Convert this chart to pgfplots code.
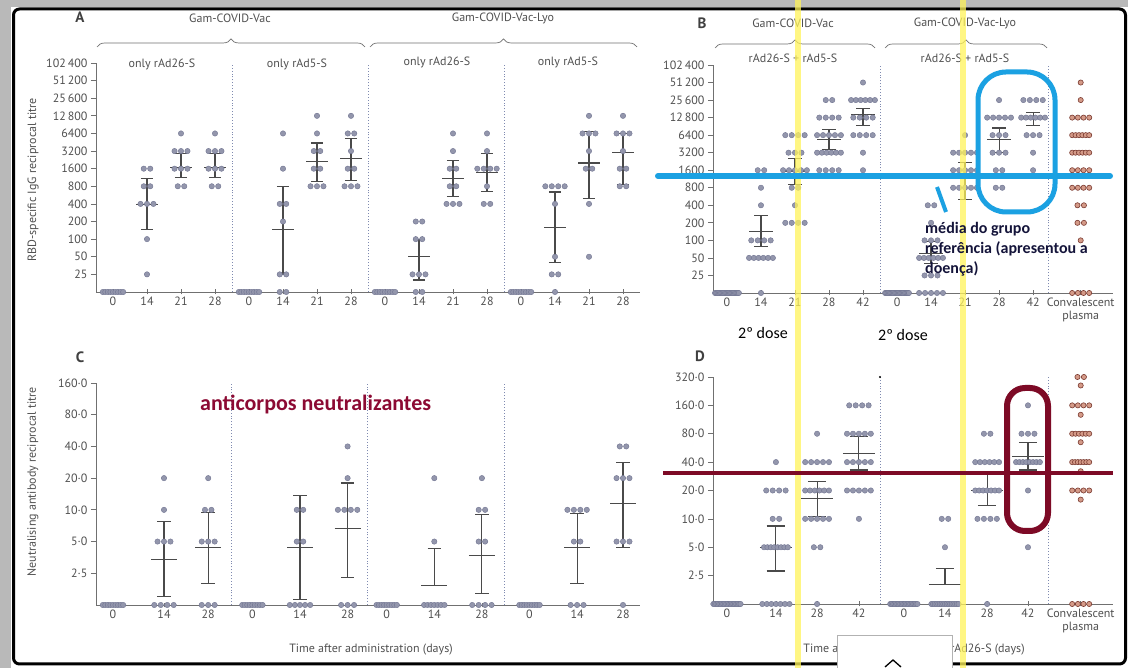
\documentclass[border=0pt]{standalone}
\usepackage{pgfplots}
\pgfplotsset{compat=1.18}
\usepackage{fontspec}
\setmainfont{PT Sans}
\newfontfamily\anno{Carlito}
\usetikzlibrary{decorations.pathreplacing}

\definecolor{dotf}{HTML}{9396AC}
\definecolor{dotd}{HTML}{6F7390}
\definecolor{plf}{HTML}{D49A88}
\definecolor{pld}{HTML}{7A3A30}
\definecolor{ebc}{HTML}{4A4A4A}
\definecolor{axc}{HTML}{707070}
\definecolor{tlc}{HTML}{505050}
\definecolor{divc}{HTML}{7F8AB0}
\definecolor{ylw}{HTML}{FFF35A}
\definecolor{blu}{HTML}{1BA1E2}
\definecolor{mar}{HTML}{7D0A26}
\definecolor{antc}{HTML}{8C0A33}
\definecolor{annb}{HTML}{14143A}

\newcommand\lbl{\fontsize{12}{13.5}\selectfont\color{tlc}}

% ---- dot-plot helpers: each category is given as value/count pairs ----
\def\pts{}
\def\dotsp{0.19}
\def\dotcap{0.6}
\def\zerocap{0.6}
\def\zeroval{12.5}
\def\mw{0.32}
\def\cw{0.18}
\makeatletter
\def\@zero{0}
\newcommand\addrow[3]{%
  \edef\@val{#2}%
  \ifx\@val\@zero \let\@yy\zeroval \let\@cap\zerocap \else \let\@yy\@val \let\@cap\dotcap \fi
  \pgfmathsetmacro\@sp{min(\dotsp,\@cap/max(#3-1,1))}%
  \pgfmathtruncatemacro\@n{#3}%
  \foreach \kk in {1,...,\@n}{%
    \pgfmathsetmacro\@xx{#1+(\kk-1-(#3-1)/2)*\@sp}%
    \xdef\pts{\pts (\@xx,\@yy)}%
  }%
}
\makeatother
\newcommand\addcat[2]{\foreach \vv/\nn in {#2}{\addrow{#1}{\vv}{\nn}}}
\newcommand\plotdots[1]{\edef\tmp{\noexpand\addplot[#1] coordinates {\pts};}\tmp\gdef\pts{}}
% mean with 95% CI: pos, mean, low, high
\newcommand\ebar[4]{%
  \pgfmathsetmacro\xa{#1-\mw}\pgfmathsetmacro\xb{#1+\mw}%
  \pgfmathsetmacro\xc{#1-\cw}\pgfmathsetmacro\xd{#1+\cw}%
  \edef\tmp{\noexpand\addplot[ebc, line width=1.1pt, mark=none] coordinates {(\xa,#2) (\xb,#2)};%
    \noexpand\addplot[ebc, line width=1.1pt, mark=none] coordinates {(\xc,#3) (\xd,#3)};%
    \noexpand\addplot[ebc, line width=1.1pt, mark=none] coordinates {(\xc,#4) (\xd,#4)};%
    \noexpand\addplot[ebc, line width=1.1pt, mark=none] coordinates {(#1,#3) (#1,#4)};}\tmp}

\tikzset{divl/.style={divc, dotted, line width=0.9pt}}
\pgfplotsset{
  panel/.style={scale only axis, axis lines*=left, clip=false,
    axis line style={axc, line width=0.8pt},
    tick style={axc, line width=0.7pt},
    ytick align=outside, xtick align=center, major tick length=5pt,
    tick label style={font=\lbl},
    xticklabel style={align=center, inner sep=2pt}},
  dp/.style={only marks, mark=*, mark size=2.7pt, mark options={fill=dotf, draw=dotd, line width=0.4pt}},
  pp/.style={only marks, mark=*, mark size=2.6pt, mark options={fill=plf, draw=pld, line width=0.6pt}},
}

\begin{document}
\begin{tikzpicture}[x=1pt,y=1pt]
\path[use as bounding box] (0,0) rectangle (1128,668);
\fill[white] (0,0) rectangle (1128,668);
\fill[gray!55] (0,0) rectangle (11,668);
\fill[gray!55] (0,661) rectangle (1128,668);
\draw[black, line width=3pt, rounded corners=6pt] (13.5,4) rectangle (1125.5,659);

% ================= A =================
\begin{axis}[panel, ymode=log, anchor=south west, at={(96pt,376pt)}, width=544pt, height=229pt,
  ymin=12.5, ymax=102400,
  ytick={25,50,100,200,400,800,1600,3200,6400,12800,25600,51200,102400},
  yticklabels={25,50,100,200,400,800,1600,3200,6400,12\,800,25\,600,51\,200,102\,400},
  xmin=-0.5, xmax=15.5, xtick={0,...,15},
  xticklabels={0,14,21,28,0,14,21,28,0,14,21,28,0,14,21,28}]
\def\zeroval{12.5}\def\dotcap{0.6}\def\zerocap{0.6}\def\mw{0.32}\def\cw{0.18}
\draw[divl] (axis cs:3.5,12.5) -- (axis cs:3.5,102400);
\draw[divl] (axis cs:7.5,12.5) -- (axis cs:7.5,102400);
\draw[divl] (axis cs:11.5,12.5) -- (axis cs:11.5,102400);
\addcat{0}{0/9}
\addcat{1}{1600/2,800/2,400/3,100/1,25/1}
\addcat{2}{6400/1,3200/3,1600/3,800/2}
\addcat{3}{6400/1,3200/3,1600/3,800/2}
\addcat{4}{0/9}
\addcat{5}{6400/1,1600/1,400/2,200/1,25/2,0/2}
\addcat{6}{12800/1,6400/1,3200/2,1600/2,800/3}
\addcat{7}{12800/1,6400/2,3200/1,1600/2,800/3}
\addcat{8}{0/9}
\addcat{9}{200/2,100/2,25/3,0/2}
\addcat{10}{6400/1,3200/1,1600/2,800/2,400/3}
\addcat{11}{6400/1,3200/1,1600/4,800/1,400/2}
\addcat{12}{0/9}
\addcat{13}{800/4,400/1,50/1,25/2,0/1}
\addcat{14}{12800/1,6400/3,3200/1,1600/2,400/1,50/1}
\addcat{15}{12800/1,6400/3,3200/1,1600/2,800/2}
\plotdots{dp}
\ebar{1}{390}{146}{1080}
\ebar{2}{1700}{1130}{2900}
\ebar{3}{1700}{1130}{2900}
\ebar{5}{146}{25}{800}
\ebar{6}{2100}{960}{4400}
\ebar{7}{2350}{1000}{5200}
\ebar{9}{50}{20}{100}
\ebar{10}{1100}{530}{2200}
\ebar{11}{1400}{650}{2900}
\ebar{13}{160}{40}{640}
\ebar{14}{2000}{500}{7000}
\ebar{15}{3000}{850}{6400}
\end{axis}

% ================= B =================
\begin{axis}[panel, ymode=log, anchor=south west, at={(713pt,375pt)}, width=400pt, height=228pt,
  ymin=12.5, ymax=102400,
  ytick={25,50,100,200,400,800,1600,3200,6400,12800,25600,51200,102400},
  yticklabels={25,50,100,200,400,800,1600,3200,6400,12\,800,25\,600,51\,200,102\,400},
  xmin=-0.41, xmax=11.35, xtick={0,1,2,3,4,5,6,7,8,9,10.4},
  xticklabels={0,14,21,28,42,0,14,21,28,42,{Convalescent\\plasma}}]
\def\zeroval{12.5}\def\dotcap{0.7}\def\zerocap{0.7}\def\mw{0.35}\def\cw{0.2}
\draw[divl] (axis cs:4.5,12.5) -- (axis cs:4.5,102400);
\draw[divl] (axis cs:9.45,12.5) -- (axis cs:9.45,102400);
\addcat{0}{0/20}
\addcat{1}{1600/2,800/1,400/1,100/4,50/6,0/1}
\addcat{2}{6400/4,3200/3,1600/5,800/2,400/1,200/4}
\addcat{3}{25600/2,12800/4,6400/5,3200/6,1600/4}
\addcat{4}{51200/1,25600/6,12800/4,6400/4,3200/1,1600/1}
\addcat{5}{0/20}
\addcat{6}{400/2,200/1,100/3,50/6,25/3,0/5}
\addcat{7}{6400/1,3200/5,1600/5,800/5}
\addcat{8}{25600/1,12800/5,6400/3,3200/3,1600/2,800/2}
\addcat{9}{25600/4,12800/6,6400/3,3200/1,1600/1}
\plotdots{dp}
\def\dotcap{0.5}\def\zerocap{0.5}
\addcat{10.4}{51200/1,25600/1,12800/4,6400/6,3200/6,1600/4,800/4,400/2,200/2,100/1,0/4}
\plotdots{pp}
\ebar{1}{140}{78}{264}
\ebar{2}{1550}{900}{2500}
\ebar{3}{5400}{3600}{8000}
\ebar{4}{14700}{9400}{18500}
\ebar{6}{60}{40}{95}
\ebar{7}{1200}{500}{2200}
\ebar{8}{5300}{3200}{8500}
\ebar{9}{12500}{9500}{15500}
\end{axis}

% ================= C =================
\begin{axis}[panel, ymode=log, anchor=south west, at={(96pt,63pt)}, width=544pt, height=222pt,
  xmin=-0.5, xmax=15.5, ymin=1.25, ymax=160,
  ytick={2.5,5,10,20,40,80,160}, yticklabels={2·5,5·0,10·0,20·0,40·0,80·0,160·0},
  xtick={0,1.5,2.8,4.1,5.5,6.9,8.05,9.45,10.85,12.25,13.65,15},
  xticklabels={0,14,28,0,14,28,0,14,28,0,14,28}]
\def\zeroval{1.25}\def\dotcap{0.6}\def\zerocap{0.6}\def\mw{0.38}\def\cw{0.2}
\draw[divl] (axis cs:3.47,1.25) -- (axis cs:3.47,160);
\draw[divl] (axis cs:7.47,1.25) -- (axis cs:7.47,160);
\draw[divl] (axis cs:11.5,1.25) -- (axis cs:11.5,160);
\addcat{0}{0/9}
\addcat{1.5}{20/1,10/1,5/3,0/4}
\addcat{2.8}{20/1,10/2,5/3,0/3}
\addcat{4.1}{0/9}
\addcat{5.5}{10/2,5/2,0/5}
\addcat{6.9}{40/1,20/1,10/4,0/3}
\addcat{8.05}{0/9}
\addcat{9.45}{20/1,5/1,0/7}
\addcat{10.85}{20/1,10/2,5/2,0/4}
\addcat{12.25}{0/9}
\addcat{13.65}{10/4,5/2,0/3}
\addcat{15}{40/2,20/3,5/3,0/1}
\plotdots{dp}
\ebar{1.5}{3.4}{1.5}{7.8}
\ebar{2.8}{4.35}{2.0}{9.5}
\ebar{5.5}{4.35}{1.4}{13.6}
\ebar{6.9}{6.6}{2.3}{18}
\ebar{9.45}{1.9}{1.9}{4.3}
\ebar{10.85}{3.7}{1.6}{9}
\ebar{13.65}{4.35}{2.0}{9.3}
\ebar{15}{11.4}{4.4}{28}
\end{axis}

% ================= D =================
\begin{axis}[panel, ymode=log, anchor=south west, at={(713pt,64pt)}, width=400pt, height=227pt,
  xmin=-0.41, xmax=11.35, ymin=1.25, ymax=320,
  ytick={2.5,5,10,20,40,80,160,320}, yticklabels={2·5,5·0,10·0,20·0,40·0,80·0,160·0,320·0},
  xtick={0,1.44,2.65,3.88,5.2,6.41,7.65,8.85,10.4},
  xticklabels={0,14,28,42,0,14,28,42,{Convalescent\\plasma}}]
\def\zeroval{1.25}\def\dotcap{0.7}\def\zerocap{0.8}\def\mw{0.47}\def\cw{0.27}
\draw[divl] (axis cs:4.5,1.25) -- (axis cs:4.5,320);
\fill[black] (axis cs:4.5,320) circle (1.2pt);
\draw[divl] (axis cs:9.45,1.25) -- (axis cs:9.45,320);
\addcat{0}{0/20}
\addcat{1.44}{40/1,20/4,10/2,5/8,0/7}
\addcat{2.65}{80/1,40/5,20/6,10/5,5/2,0/1}
\addcat{3.88}{160/4,80/5,40/5,20/5,10/1}
\addcat{5.2}{0/20}
\addcat{6.41}{10/2,5/1,0/17}
\addcat{7.65}{80/2,40/6,20/7,10/4,0/1}
\addcat{8.85}{160/1,80/3,40/8,20/1,5/1}
\plotdots{dp}
\def\dotcap{0.5}\def\zerocap{0.5}
\addcat{10.4}{320/2,260/1,160/4,127/1,80/6,65/1,40/7,32/1,20/4,16/1,0/4}
\plotdots{pp}
\ebar{1.44}{5}{2.8}{8.4}
\ebar{2.65}{16.6}{10.5}{25}
\ebar{3.88}{49}{33}{74}
\ebar{6.41}{2.0}{2.0}{2.95}
\ebar{7.65}{20}{14}{32}
\ebar{8.85}{46}{33}{65}
\end{axis}

% ---- titles, braces, labels ----
\begin{scope}[every node/.style={font=\lbl}]
\node at (230,650) {Gam-COVID-Vac};
\node at (503,650) {Gam-COVID-Vac-Lyo};
\node at (793,645) {Gam-COVID-Vac};
\node at (965,645) {Gam-COVID-Vac-Lyo};
\node at (162,604) {only rAd26-S};
\node at (297,604) {only rAd5-S};
\node at (437,606) {only rAd26-S};
\node at (568,606) {only rAd5-S};
\node at (793,610) {rAd26-S + rAd5-S};
\node at (965,610) {rAd26-S + rAd5-S};
\node[rotate=90] at (33,488) {RBD-specific IgG reciprocal titre};
\node[rotate=90] at (33,186) {Neutralising antibody reciprocal titre};
\node at (371,18) {Time after administration (days)};
\node at (914,18) {Time after administration of rAd26-S (days)};
\end{scope}
\begin{scope}[axc, line width=0.7pt, decoration={brace, amplitude=8pt}]
\draw[decorate] (97,621) -- (365,621);
\draw[decorate] (370,621) -- (637,621);
\draw[decorate] (715,620) -- (875,620);
\draw[decorate] (885,620) -- (1047,620);
\end{scope}
\begin{scope}[every node/.style={font=\bfseries\fontsize{15}{15}\selectfont, text=black!75}]
\node at (80,651) {A};
\node at (702,645) {B};
\node at (80,311) {C};
\node at (700,312) {D};
\end{scope}

% ---- overlay annotations ----
\draw[ylw, opacity=0.75, line width=6pt] (798,0) -- (798,668);
\draw[ylw, opacity=0.75, line width=6pt] (963,0) -- (963,668);
\draw[blu, line width=6pt, line cap=round] (658,492) -- (1110,492);
\draw[blu, line width=4pt] (937,481) -- (946,456);
\draw[blu, line width=5pt, rounded corners=28pt] (978,456) rectangle (1055,596);
\begin{scope}[every node/.style={anchor=base west, inner sep=0pt, font=\anno\bfseries\fontsize{16}{20}\selectfont, text=annb}]
\node at (925,434) {média do grupo};
\node at (925,414) {referência (apresentou a};
\node at (925,394) {doença)};
\end{scope}
\begin{scope}[every node/.style={anchor=base, inner sep=0pt, font=\anno\fontsize{16}{16}\selectfont, text=black}]
\node at (763,329) {2º dose};
\node at (903,327) {2º dose};
\end{scope}
\draw[mar, line width=4pt] (663,195) -- (1113,195);
\draw[mar, line width=6pt, rounded corners=18pt] (1007,137) rectangle (1048,280);
\node[anchor=base west, inner sep=0pt, font=\anno\bfseries\fontsize{22}{22}\selectfont, text=antc] at (200,257) {anticorpos neutralizantes};

% ---- bottom overlay box ----
\draw[fill=white, draw=gray!60, line width=0.8pt] (837,-3) rectangle (952,33);
\draw[black, line width=1.3pt] (885,1) -- (893,8) -- (901,1);
\end{tikzpicture}
\end{document}
